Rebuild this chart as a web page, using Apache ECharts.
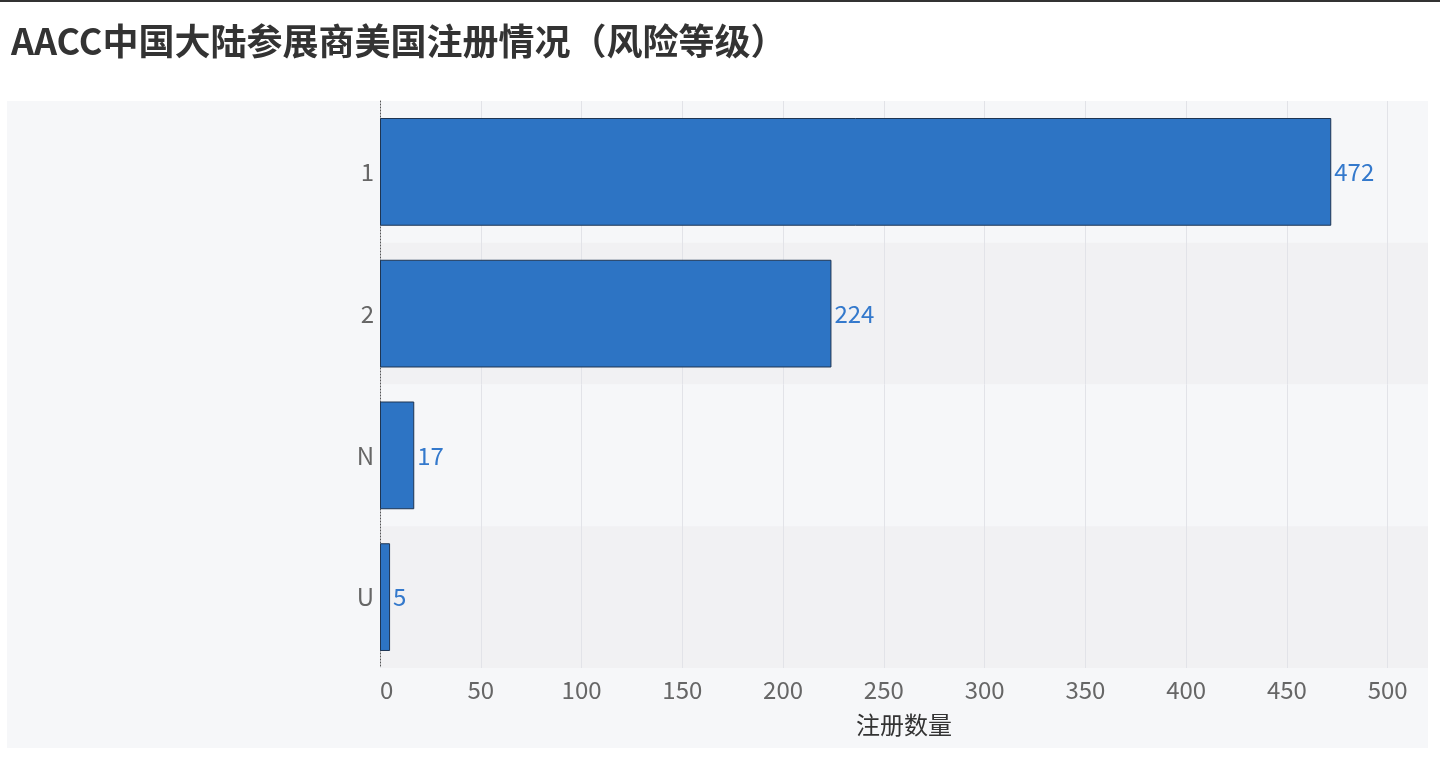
<!DOCTYPE html>
<html><head><meta charset="utf-8">
<script src="https://cdn.jsdelivr.net/npm/echarts@6/dist/echarts.min.js"></script>
<style>html,body{margin:0;padding:0;background:#fff;}#c{width:1440px;height:758px;}</style>
</head><body><div id="c"></div>
<script>
const titleText = 'AACC中国大陆参展商美国注册情况（风险等级）';
const categories = ['1', '2', 'N', 'U'];
const values = [472, 224, 17, 5];
const axisName = '注册数量';

const chart = echarts.init(document.getElementById('c'), null, {renderer: 'canvas'});
const font = '"Noto Sans CJK SC", "Noto Sans", Roboto, sans-serif';
chart.setOption({
  backgroundColor: '#ffffff',
  animation: false,
  textStyle: {fontFamily: font},
  title: {
    text: titleText, left: 6, top: 18,
    textStyle: {fontSize: 36, fontWeight: 'bold', color: '#333333', fontFamily: font}
  },
  graphic: [
    {type: 'rect', z: -10, silent: true, shape: {x: 7, y: 101, width: 1421, height: 647}, style: {fill: '#f6f7f9'}},
    {type: 'rect', z: -10, silent: true, shape: {x: 0, y: 0, width: 1440, height: 2}, style: {fill: '#333333'}}
  ],
  grid: {left: 380, right: 12, top: 101, bottom: 90, containLabel: false},
  xAxis: {
    type: 'value', min: 0, max: 520, interval: 50,
    name: axisName, nameLocation: 'middle', nameGap: 45,
    nameTextStyle: {fontSize: 24, color: '#333333'},
    axisLine: {show: false}, axisTick: {show: false},
    axisLabel: {fontSize: 24, color: '#666666', showMaxLabel: false, margin: 10, alignMinLabel: 'left'},
    splitLine: {show: true, showMaxLine: false, lineStyle: {color: '#e2e3e8', width: 1}}
  },
  yAxis: {
    type: 'category', data: categories, inverse: true,
    axisLine: {show: true, lineStyle: {color: '#555555', type: [1, 2], width: 1}},
    axisTick: {show: false},
    axisLabel: {fontSize: 24, color: '#666666', margin: 6},
    splitArea: {show: true, areaStyle: {color: ['#f6f7f9', '#f1f1f3']}}
  },
  series: [{
    type: 'bar', data: values, barCategoryGap: '24%',
    itemStyle: {color: '#2d74c4', borderColor: '#1e3553', borderWidth: 1},
    label: {show: true, position: 'right', distance: 3, fontSize: 24, color: '#3479cc'}
  }]
});
</script></body></html>
